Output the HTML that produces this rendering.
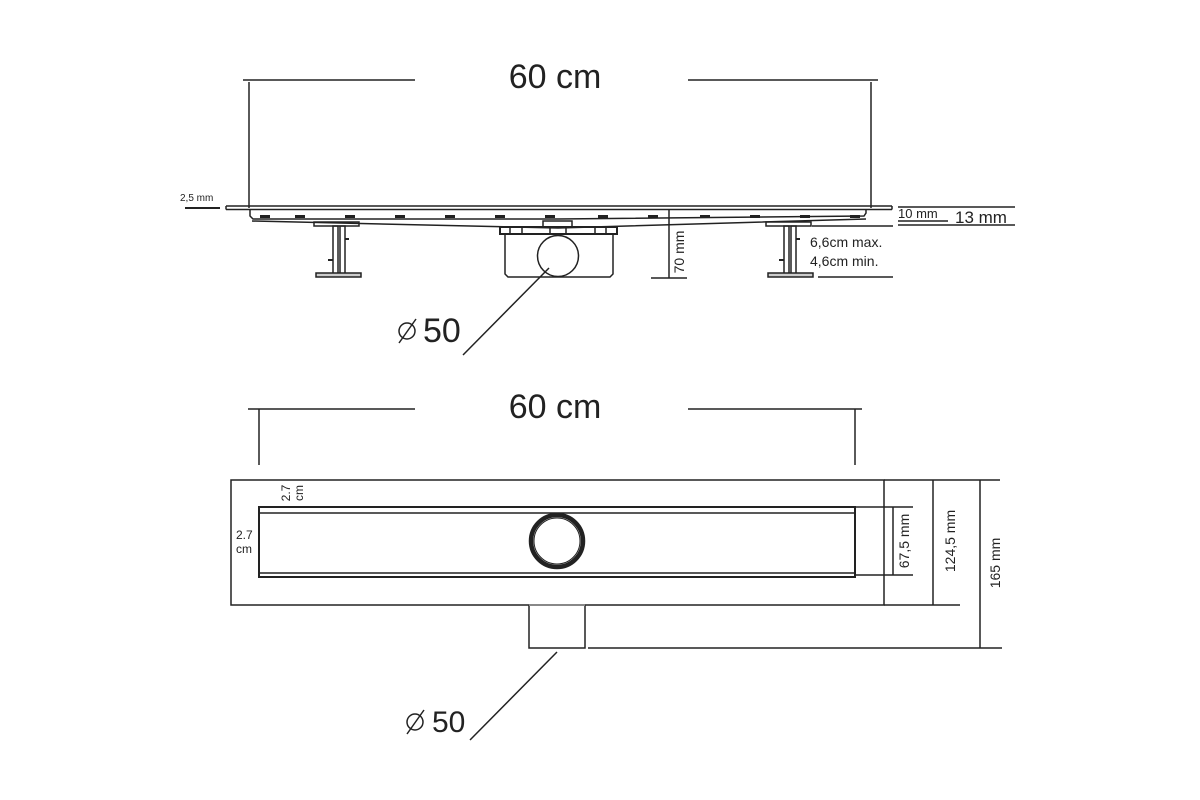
<!DOCTYPE html>
<html><head><meta charset="utf-8"><style>
html,body{margin:0;padding:0;background:#fff;}
svg{display:block;}
text{font-family:"Liberation Sans",Arial,sans-serif;fill:#222;}
</style></head><body>
<svg width="1200" height="800" viewBox="0 0 1200 800" xmlns="http://www.w3.org/2000/svg">
<g stroke="#222" fill="none" stroke-width="1.5">
<!-- TOP VIEW -->
<line x1="243" y1="80" x2="415" y2="80"/>
<line x1="688" y1="80" x2="878" y2="80"/>
<line x1="249" y1="82" x2="249" y2="208"/>
<line x1="871" y1="82" x2="871" y2="208"/>
<line x1="185" y1="208" x2="220" y2="208" stroke-width="2"/>
<line x1="226" y1="206" x2="892" y2="206"/>
<line x1="226" y1="209.5" x2="892" y2="209.5"/>
<line x1="226" y1="206" x2="226" y2="209.5"/>
<line x1="892" y1="206" x2="892" y2="209.5"/>
<!-- channel -->
<path d="M250 209 L250 216 L253 219 L558 219 L864 216 L866 213 L866 209"/>
<path d="M252 221 L558 228 L866 219"/>
<!-- small tabs -->
<g fill="#222" stroke="none">
<rect x="260" y="215" width="10" height="3"/><rect x="295" y="215" width="10" height="3"/>
<rect x="345" y="215" width="10" height="3"/><rect x="395" y="215" width="10" height="3"/>
<rect x="445" y="215" width="10" height="3"/><rect x="495" y="215" width="10" height="3"/>
<rect x="545" y="215" width="10" height="3"/><rect x="598" y="215" width="10" height="3"/>
<rect x="648" y="215" width="10" height="3"/><rect x="700" y="215" width="10" height="3"/>
<rect x="750" y="215" width="10" height="3"/><rect x="800" y="215" width="10" height="3"/>
<rect x="850" y="215" width="10" height="3"/>
</g>
<!-- left foot -->
<rect x="314" y="222" width="45" height="4"/>
<rect x="333" y="226" width="5" height="50"/>
<rect x="340" y="226" width="5" height="50"/>
<line x1="345" y1="239" x2="349" y2="239" stroke-width="2"/>
<line x1="328" y1="260" x2="333" y2="260" stroke-width="2"/>
<rect x="316" y="273" width="45" height="4" fill="#ccc"/>
<!-- right foot -->
<rect x="766" y="222" width="45" height="4"/>
<rect x="784" y="226" width="5" height="50"/>
<rect x="791" y="226" width="5" height="50"/>
<line x1="796" y1="239" x2="800" y2="239" stroke-width="2"/>
<line x1="779" y1="260" x2="784" y2="260" stroke-width="2"/>
<rect x="768" y="273" width="45" height="4" fill="#ccc"/>
<!-- drain -->
<rect x="543" y="221" width="29" height="6"/>
<rect x="500" y="227" width="117" height="7" stroke-width="2"/>
<line x1="510" y1="227" x2="510" y2="234"/><line x1="522" y1="227" x2="522" y2="234"/>
<line x1="550" y1="227" x2="550" y2="234"/><line x1="566" y1="227" x2="566" y2="234"/>
<line x1="595" y1="227" x2="595" y2="234"/><line x1="606" y1="227" x2="606" y2="234"/>
<path d="M505 234 L505 274 L508 277 L610 277 L613 274 L613 234"/>
<circle cx="558" cy="256" r="20.5"/>
<line x1="549" y1="268" x2="463" y2="355"/>
<!-- 70mm -->
<line x1="669" y1="209" x2="669" y2="278"/>
<line x1="651" y1="278" x2="687" y2="278"/>
<!-- right dims -->
<line x1="898" y1="207" x2="1015" y2="207"/>
<line x1="898" y1="221" x2="948" y2="221"/>
<line x1="898" y1="225" x2="1015" y2="225"/>
<line x1="812" y1="226" x2="893" y2="226"/>
<line x1="818" y1="277" x2="893" y2="277"/>

<!-- BOTTOM VIEW -->
<line x1="248" y1="409" x2="415" y2="409"/>
<line x1="688" y1="409" x2="862" y2="409"/>
<line x1="259" y1="409" x2="259" y2="465"/>
<line x1="855" y1="409" x2="855" y2="465"/>
<rect x="231" y="480" width="653" height="125"/>
<rect x="259" y="507" width="596" height="70" stroke-width="2"/>
<line x1="259" y1="513" x2="855" y2="513"/>
<line x1="259" y1="573" x2="855" y2="573"/>
<circle cx="557" cy="541" r="26" stroke-width="4.5"/>
<circle cx="557" cy="541" r="23" stroke-width="1"/>
<path d="M529 605 L529 648 L585 648 L585 605"/>
<line x1="529" y1="605" x2="585" y2="605" stroke="#888" stroke-width="2"/>
<line x1="557" y1="652" x2="470" y2="740"/>
<line x1="884" y1="480" x2="1000" y2="480"/>
<line x1="933" y1="480" x2="933" y2="605"/>
<line x1="980" y1="480" x2="980" y2="648"/>
<line x1="884" y1="605" x2="960" y2="605"/>
<line x1="588" y1="648" x2="1002" y2="648"/>
<line x1="855" y1="507" x2="913" y2="507"/>
<line x1="855" y1="575" x2="913" y2="575"/>
<line x1="893" y1="507" x2="893" y2="575"/>
<!-- diameter symbols -->
<circle cx="407" cy="331" r="8"/>
<line x1="399" y1="343" x2="416" y2="319"/>
<circle cx="415" cy="722" r="8"/>
<line x1="407" y1="734" x2="424" y2="710"/>
</g>
<text x="555" y="88" font-size="34" text-anchor="middle">60 cm</text>
<text x="555" y="418" font-size="34" text-anchor="middle">60 cm</text>
<text x="423" y="342" font-size="34">50</text>
<text x="432" y="732" font-size="30">50</text>
<text x="180" y="201" font-size="10">2,5 mm</text>
<text x="898" y="218" font-size="13">10 mm</text>
<text x="955" y="223" font-size="17">13 mm</text>
<text x="810" y="247" font-size="14">6,6cm max.</text>
<text x="810" y="266" font-size="14">4,6cm min.</text>
<text transform="translate(684,252) rotate(-90)" font-size="14" text-anchor="middle">70 mm</text>
<text x="236" y="539" font-size="12">2.7</text>
<text x="236" y="553" font-size="12">cm</text>
<text transform="translate(290,493) rotate(-90)" font-size="12" text-anchor="middle">2.7</text>
<text transform="translate(303,493) rotate(-90)" font-size="12" text-anchor="middle">cm</text>
<text transform="translate(909,541) rotate(-90)" font-size="14" text-anchor="middle">67,5 mm</text>
<text transform="translate(955,541) rotate(-90)" font-size="14" text-anchor="middle">124,5 mm</text>
<text transform="translate(1000,563) rotate(-90)" font-size="14" text-anchor="middle">165 mm</text>
</svg>
</body></html>
